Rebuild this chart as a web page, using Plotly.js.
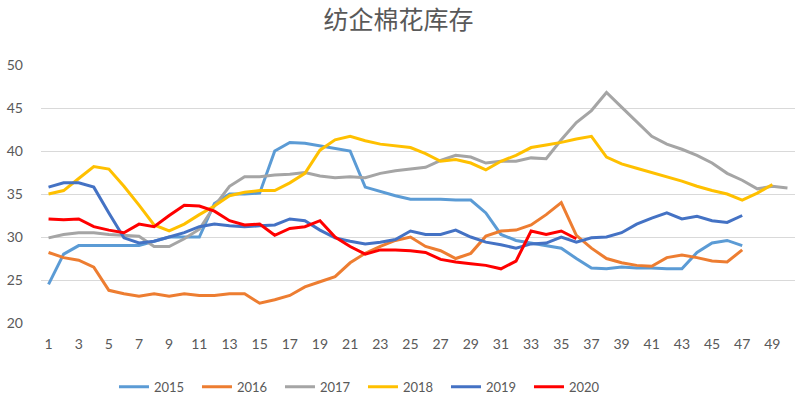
<!DOCTYPE html>
<html>
<head>
<meta charset="utf-8">
<script src="https://cdn.plot.ly/plotly-3.0.1.min.js"></script>
<style>html,body{margin:0;padding:0;background:#fff;}#chart{width:797px;height:398px;}</style>
</head>
<body>
<div id="chart"></div>
<script>
const weeks = [1,2,3,4,5,6,7,8,9,10,11,12,13,14,15,16,17,18,19,20,21,22,23,24,25,26,27,28,29,30,31,32,33,34,35,36,37,38,39,40,41,42,43,44,45,46,47,48,49,50];
const xTicks = [1,3,5,7,9,11,13,15,17,19,21,23,25,27,29,31,33,35,37,39,41,43,45,47,49];
const yTicks = [20,25,30,35,40,45,50];

const s2015 = [24.5,28.0,29.0,29.0,29.0,29.0,29.0,29.5,30.0,30.0,30.0,33.9,35.0,35.0,35.1,40.0,41.0,40.9,40.6,40.3,40.0,35.8,35.3,34.8,34.4,34.4,34.4,34.3,34.3,32.8,30.3,29.6,29.3,29.0,28.7,27.5,26.4,26.3,26.5,26.4,26.4,26.3,26.3,28.2,29.3,29.6,29.0];
const s2016 = [28.2,27.6,27.3,26.5,23.8,23.4,23.1,23.4,23.1,23.4,23.2,23.2,23.4,23.4,22.3,22.7,23.2,24.2,24.8,25.4,27.0,28.1,28.9,29.6,30.0,28.9,28.4,27.5,28.1,30.1,30.7,30.8,31.4,32.6,34.0,30.2,28.7,27.5,27.0,26.7,26.6,27.6,27.9,27.6,27.2,27.1,28.5];
const s2017 = [29.9,30.3,30.5,30.5,30.3,30.2,30.1,28.9,28.9,29.8,30.9,33.6,35.9,37.0,37.0,37.2,37.3,37.5,37.1,36.9,37.0,36.9,37.4,37.7,37.9,38.1,38.9,39.5,39.3,38.6,38.8,38.8,39.2,39.1,41.3,43.3,44.7,46.8,45.1,43.4,41.7,40.8,40.2,39.5,38.6,37.4,36.6,35.6,35.9,35.7];
const s2018 = [35.0,35.4,36.8,38.2,37.9,35.9,33.7,31.4,30.7,31.5,32.6,33.6,34.8,35.2,35.4,35.4,36.3,37.4,40.1,41.3,41.7,41.2,40.8,40.6,40.4,39.7,38.8,39.0,38.6,37.8,38.8,39.5,40.4,40.7,41.0,41.4,41.7,39.3,38.5,38.0,37.5,37.0,36.5,35.9,35.4,35.0,34.3,35.1,36.1];
const s2019 = [35.8,36.3,36.3,35.8,32.8,29.9,29.3,29.5,30.0,30.5,31.2,31.5,31.3,31.2,31.3,31.4,32.1,31.9,30.8,29.9,29.5,29.2,29.4,29.7,30.7,30.3,30.3,30.8,30.0,29.4,29.1,28.7,29.2,29.3,30.0,29.4,29.9,30.0,30.5,31.5,32.2,32.8,32.1,32.4,31.9,31.7,32.5];
const s2020 = [32.1,32.0,32.1,31.2,30.8,30.5,31.5,31.2,32.5,33.7,33.6,33.0,31.9,31.4,31.5,30.2,31.0,31.2,31.9,30.0,28.9,28.0,28.5,28.5,28.4,28.2,27.4,27.1,26.9,26.7,26.3,27.2,30.7,30.3,30.7,29.8];

const names = ['2015','2016','2017','2018','2019','2020'];
const series = [s2015,s2016,s2017,s2018,s2019,s2020];
const colors = ['#5B9BD5','#ED7D31','#A5A5A5','#FFC000','#4472C4','#FF0000'];

const traces = series.map((s,i) => ({
  type: 'scatter', mode: 'lines', name: names[i],
  x: weeks.slice(0, s.length), y: s,
  line: {color: colors[i], width: 3, shape: 'linear'},
  hoverinfo: 'skip'
}));

const layout = {
  width: 797, height: 398,
  margin: {l: 41, r: 2, t: 65, b: 75},
  paper_bgcolor: '#ffffff', plot_bgcolor: '#ffffff',
  font: {family: 'Lato, "Open Sans", sans-serif', size: 13, color: '#595959'},
  title: {text: '纺企棉花库存', x: 0.5, xanchor: 'center', y: 0.948, yanchor: 'middle',
          font: {family: '"Noto Sans CJK SC", sans-serif', size: 25, color: '#595959'}},
  xaxis: {range: [0.5, 50.5], tickmode: 'array', tickvals: xTicks, ticktext: xTicks.map(String),
          showgrid: false, zeroline: false, showline: false, ticks: '', ticklabelstandoff: 11,
          tickfont: {size: 14, color: '#595959'}, fixedrange: true},
  yaxis: {range: [20, 50], tickmode: 'array', tickvals: yTicks, ticktext: yTicks.map(String),
          showgrid: true, gridcolor: '#D9D9D9', gridwidth: 1, zeroline: false, showline: false,
          ticks: '', ticklabelstandoff: 17, tickfont: {size: 14, color: '#595959'}, fixedrange: true},
  showlegend: true,
  legend: {orientation: 'h', x: 0.0968, xanchor: 'left', yref: 'container', y: 0.028, yanchor: 'middle',
           font: {size: 13, color: '#595959'}, entrywidth: 38, entrywidthmode: 'pixels',
           itemwidth: 30, traceorder: 'normal'}
};

Plotly.newPlot('chart', traces, layout, {staticPlot: true, displayModeBar: false});
</script>
</body>
</html>
